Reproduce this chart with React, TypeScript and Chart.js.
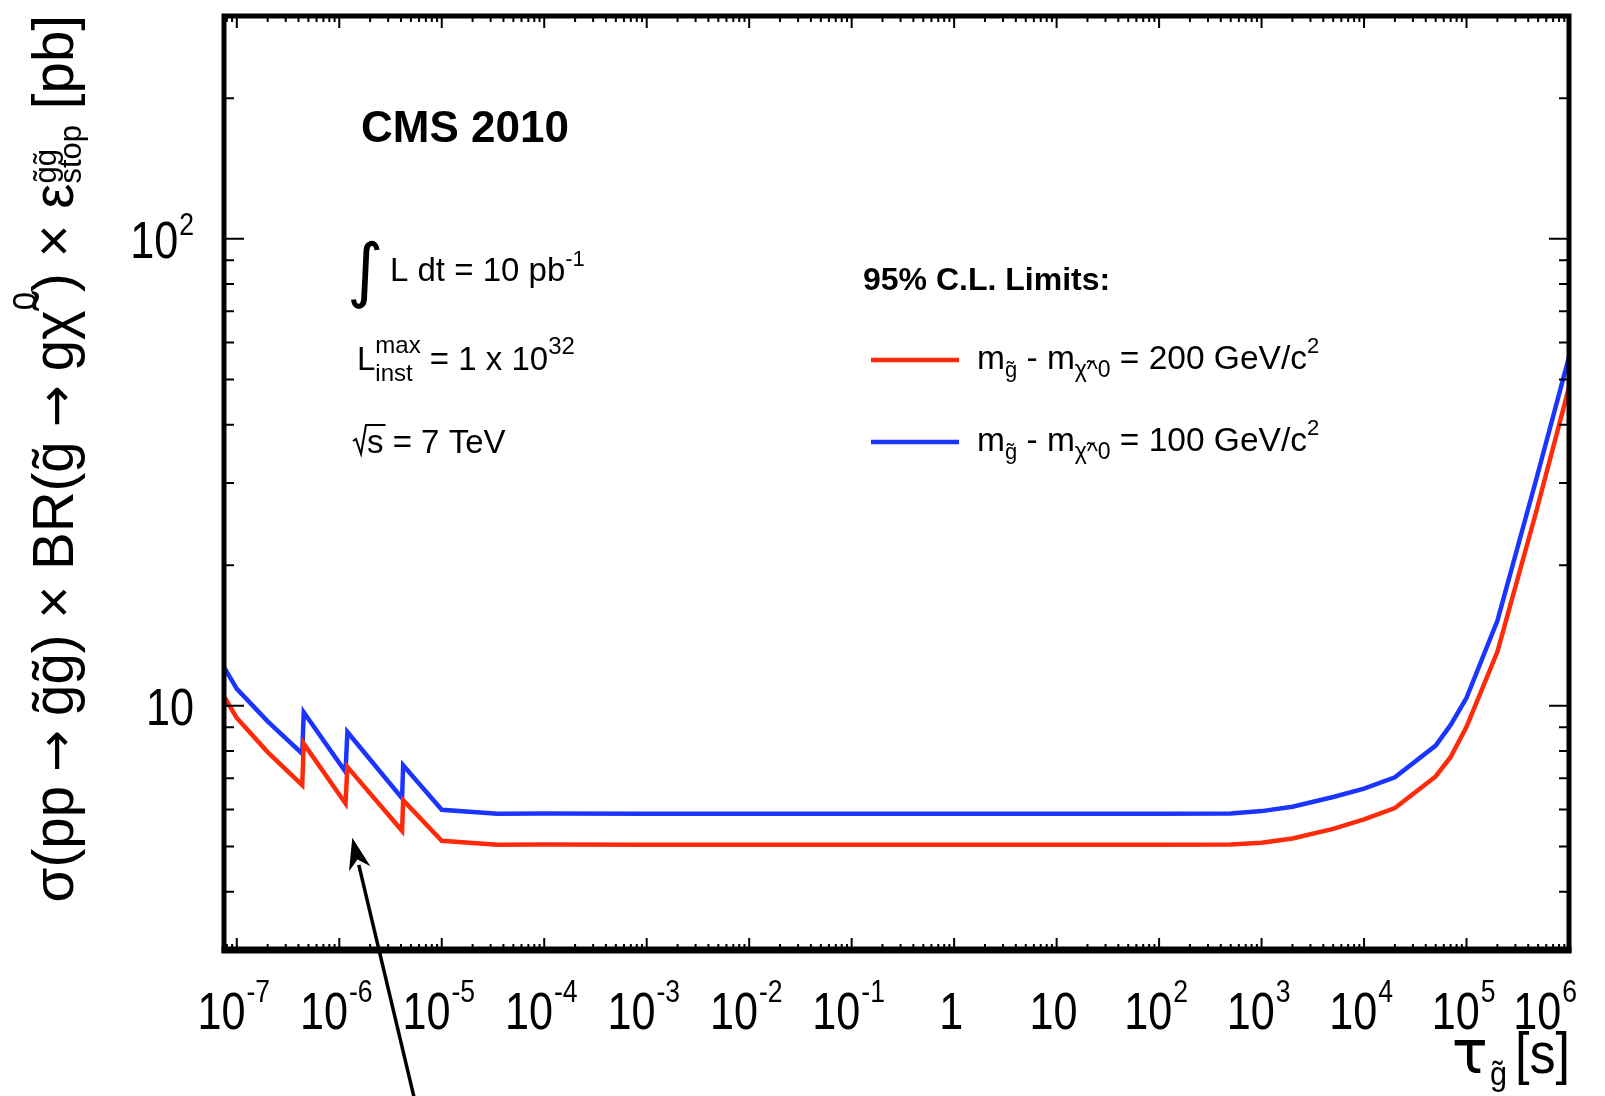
import React, { useEffect, useRef } from 'react';
import { Chart, registerables } from 'chart.js';

Chart.register(...registerables);

// ---------------- data ----------------
const tau = [
  7.5e-8, 1.0e-7, 2.0e-7, 4.35e-7, 4.5e-7, 1.15e-6, 1.2e-6, 4.1e-6, 4.2e-6, 1.0e-5,
  3.5e-5, 1e-4, 1e-3, 7e-3, 1e-1, 1, 10, 100, 5e2, 1e3,
  2e3, 5e3, 1e4, 2e4, 5e4, 7e4, 1e5, 2e5, 4.8e5, 1e6,
];
// m_gluino - m_neutralino = 200 GeV/c^2 (red)
const limit200 = [
  10.47, 9.42, 7.96, 6.76, 8.3, 6.18, 7.4, 5.4, 6.28, 5.14,
  5.04, 5.05, 5.04, 5.04, 5.04, 5.04, 5.04, 5.04, 5.05, 5.09,
  5.2, 5.45, 5.71, 6.04, 7.06, 7.77, 9.02, 13.05, 26.1, 48.1,
];
// m_gluino - m_neutralino = 100 GeV/c^2 (blue)
const limit100 = [
  12.1, 10.87, 9.26, 7.9, 9.69, 7.22, 8.79, 6.34, 7.46, 5.99,
  5.87, 5.88, 5.87, 5.87, 5.87, 5.87, 5.87, 5.87, 5.88, 5.95,
  6.08, 6.38, 6.65, 7.03, 8.22, 9.1, 10.4, 15.2, 30.6, 55.8,
];
const seriesLabels = ['200', '100'];
const xTickExponents = [-7, -6, -5, -4, -3, -2, -1, 0, 1, 2, 3, 4, 5, 6];
const yTickExponents = [1, 2];
const X_MIN = 7.5e-8;
const X_MAX = 1e6;
const Y_MIN = 3;
const Y_MAX = 300;
// annotation arrow (data coordinates): tail below the axis, tip near the dips
const arrowTail = { x: 5.37e-6, y: 1.45 };
const arrowTip = { x: 1.34e-6, y: 5.22 };

const RED = '#ff2a0a';
const BLUE = '#1a35ff';
const FONT = '"Liberation Sans", Arial, Helvetica, sans-serif';
const DEJAVU = '"DejaVu Sans", sans-serif';

type Seg = {
  t: string;
  size: number;
  rise?: number;
  bold?: boolean;
  stackNext?: boolean;
  dx?: number;
  family?: string;
  sx?: number;
};

function fontOf(s: Seg) {
  return `${s.bold ? 'bold ' : ''}${s.size}px ${s.family || FONT}`;
}

function richWidth(ctx: CanvasRenderingContext2D, segs: Seg[], sx: number) {
  let x = 0;
  let stackW = 0;
  let inStack = false;
  for (const s of segs) {
    ctx.font = fontOf(s);
    const w = ctx.measureText(s.t).width * (s.sx ?? sx);
    x += s.dx || 0;
    if (s.stackNext) {
      stackW = Math.max(stackW, w);
      inStack = true;
      continue;
    }
    if (inStack) {
      x += Math.max(stackW, w);
      inStack = false;
      stackW = 0;
    } else x += w;
  }
  return x;
}

function drawRich(
  ctx: CanvasRenderingContext2D,
  segs: Seg[],
  x: number,
  y: number,
  align: 'left' | 'right' | 'center',
  sx = 1,
) {
  const total = richWidth(ctx, segs, sx);
  let cx = align === 'left' ? x : align === 'right' ? x - total : x - total / 2;
  let stackW = 0;
  let inStack = false;
  for (const s of segs) {
    ctx.font = fontOf(s);
    const k = s.sx ?? sx;
    const w = ctx.measureText(s.t).width * k;
    cx += s.dx || 0;
    ctx.save();
    ctx.translate(cx, y - (s.rise || 0));
    ctx.scale(k, 1);
    ctx.textAlign = 'left';
    ctx.textBaseline = 'alphabetic';
    ctx.fillText(s.t, 0, 0);
    ctx.restore();
    if (s.stackNext) {
      stackW = Math.max(stackW, w);
      inStack = true;
      continue;
    }
    if (inStack) {
      cx += Math.max(stackW, w);
      inStack = false;
      stackW = 0;
    } else cx += w;
  }
  return total;
}

const rootStylePlugin = {
  id: 'rootStyle',
  afterDatasetsDraw(chart: any) {
    const ctx: CanvasRenderingContext2D = chart.ctx;
    const { left, right, top, bottom } = chart.chartArea;
    const xs = chart.scales.x;
    const ys = chart.scales.y;
    ctx.save();
    ctx.strokeStyle = '#000';
    ctx.lineCap = 'butt';
    ctx.lineWidth = 2;
    for (let d = -8; d <= 6; d++) {
      for (let k = 1; k <= 9; k++) {
        const v = k * Math.pow(10, d);
        if (v < X_MIN * 0.999 || v > X_MAX * 1.001) continue;
        const px = xs.getPixelForValue(v);
        const len = k === 1 ? 12 : 6;
        ctx.beginPath();
        ctx.moveTo(px, bottom);
        ctx.lineTo(px, bottom - len);
        ctx.moveTo(px, top);
        ctx.lineTo(px, top + len);
        ctx.stroke();
      }
    }
    for (let d = 0; d <= 2; d++) {
      for (let k = 1; k <= 9; k++) {
        const v = k * Math.pow(10, d);
        if (v < Y_MIN * 0.999 || v > Y_MAX * 1.001) continue;
        const py = ys.getPixelForValue(v);
        const len = k === 1 ? 20 : 10;
        ctx.beginPath();
        ctx.moveTo(left, py);
        ctx.lineTo(left + len, py);
        ctx.moveTo(right, py);
        ctx.lineTo(right - len, py);
        ctx.stroke();
      }
    }
    ctx.lineWidth = 5;
    ctx.strokeRect(left, top, right - left, bottom - top);
    ctx.lineWidth = 7;
    ctx.beginPath();
    ctx.moveTo(left - 2.5, bottom);
    ctx.lineTo(right + 2.5, bottom);
    ctx.stroke();
    ctx.restore();
  },
  afterDraw(chart: any) {
    const ctx: CanvasRenderingContext2D = chart.ctx;
    const { right } = chart.chartArea;
    const xs = chart.scales.x;
    const ys = chart.scales.y;
    ctx.save();
    ctx.fillStyle = '#000';

    // x tick labels
    const SX = 0.83;
    for (const e of xTickExponents) {
      const px = xs.getPixelForValue(Math.pow(10, e));
      let segs: Seg[];
      if (e === 0) segs = [{ t: '1', size: 52 }];
      else if (e === 1) segs = [{ t: '10', size: 52 }];
      else segs = [{ t: '10', size: 52 }, { t: String(e), size: 32, rise: 27, dx: 1 }];
      const w = richWidth(ctx, segs, SX);
      let cx = px - 3;
      if (cx + w / 2 > right + 8) cx = right + 8 - w / 2;
      drawRich(ctx, segs, cx, 1029, 'center', SX);
    }
    // y tick labels
    for (const e of yTickExponents) {
      const py = ys.getPixelForValue(Math.pow(10, e));
      const segs: Seg[] =
        e === 1 ? [{ t: '10', size: 52 }] : [{ t: '10', size: 52 }, { t: String(e), size: 32, rise: 23, dx: 1 }];
      drawRich(ctx, segs, 194, py + 19, 'right', SX);
    }

    // x title
    drawRich(
      ctx,
      [
        { t: 'τ', size: 60, family: DEJAVU, sx: 1 },
        { t: 'g\u0303', size: 34, rise: -12, dx: 2 },
        { t: '[s]', size: 58, dx: 8 },
      ],
      right + 1,
      1073,
      'right',
      0.9,
    );

    // y title (rotated)
    const F = 56.5;
    const gap = 14;
    const arrowSeg: Seg = { t: '→', size: 50, family: DEJAVU, dx: gap };
    ctx.save();
    ctx.translate(73, 15);
    ctx.rotate(-Math.PI / 2);
    drawRich(
      ctx,
      [
        { t: 'σ(pp', size: F },
        arrowSeg,
        { t: 'g\u0303g\u0303', size: F, dx: gap },
        { t: ') × BR(', size: F },
        { t: 'g\u0303', size: F },
        arrowSeg,
        { t: 'g', size: F, dx: gap },
        { t: 'χ\u0303', size: F },
        { t: '0', size: 33, rise: 37 },
        { t: ') × ε', size: F },
        { t: 'g\u0303g\u0303', size: 31, rise: 17, stackNext: true },
        { t: 'stop', size: 31, rise: -8 },
        { t: ' [pb]', size: F },
      ],
      0,
      0,
      'right',
      1,
    );
    ctx.restore();

    // CMS 2010
    drawRich(ctx, [{ t: 'CMS 2010', size: 44, bold: true }], 361, 142, 'left');

    // integral sign, fitted to its box
    ctx.font = `100px ${DEJAVU}`;
    const m = ctx.measureText('∫');
    const hh = m.actualBoundingBoxAscent + m.actualBoundingBoxDescent;
    const fs = (100 * 69) / hh;
    ctx.font = `${fs}px ${DEJAVU}`;
    const m2 = ctx.measureText('∫');
    ctx.textAlign = 'left';
    ctx.textBaseline = 'alphabetic';
    ctx.fillText('∫', 350 + m2.actualBoundingBoxLeft, 240 + m2.actualBoundingBoxAscent);

    drawRich(
      ctx,
      [
        { t: 'L dt = 10 pb', size: 33 },
        { t: '-1', size: 22, rise: 15 },
      ],
      390,
      281,
      'left',
    );
    drawRich(
      ctx,
      [
        { t: 'L', size: 33 },
        { t: 'max', size: 24, rise: 17, stackNext: true },
        { t: 'inst', size: 24, rise: -11 },
        { t: ' = 1 x 10', size: 33 },
        { t: '32', size: 24, rise: 16 },
      ],
      357,
      370,
      'left',
    );
    // sqrt(s): radical drawn as a stroke, then the text
    const b = 453;
    const x0 = 353;
    ctx.font = `33px ${FONT}`;
    const ws = ctx.measureText('s').width;
    ctx.strokeStyle = '#000';
    ctx.lineWidth = 2;
    ctx.lineJoin = 'miter';
    ctx.beginPath();
    ctx.moveTo(x0, b - 12);
    ctx.lineTo(x0 + 3, b - 14);
    ctx.lineTo(x0 + 8, b + 1);
    ctx.lineTo(x0 + 13, b - 28);
    ctx.lineTo(x0 + 14 + ws + 2, b - 28);
    ctx.stroke();
    ctx.textAlign = 'left';
    ctx.fillText('s = 7 TeV', x0 + 14, b);

    // legend
    drawRich(ctx, [{ t: '95% C.L. Limits:', size: 32, bold: true }], 863, 290, 'left');
    const legendRows = [
      { color: RED, label: seriesLabels[0], y: 360 },
      { color: BLUE, label: seriesLabels[1], y: 442 },
    ];
    for (const row of legendRows) {
      ctx.strokeStyle = row.color;
      ctx.lineWidth = 4.5;
      ctx.beginPath();
      ctx.moveTo(871, row.y);
      ctx.lineTo(959, row.y);
      ctx.stroke();
      drawRich(
        ctx,
        [
          { t: 'm', size: 33.5 },
          { t: 'g\u0303', size: 22, rise: -8 },
          { t: ' - m', size: 33.5 },
          { t: 'χ\u0303^0', size: 23, rise: -8 },
          { t: ` = ${row.label} GeV/c`, size: 33.5 },
          { t: '2', size: 22, rise: 16 },
        ],
        977,
        row.y + 8.5,
        'left',
      );
    }

    // arrow
    const tx = xs.getPixelForValue(arrowTail.x);
    const ty = ys.getPixelForValue(arrowTail.y);
    const hx = xs.getPixelForValue(arrowTip.x);
    const hy = ys.getPixelForValue(arrowTip.y);
    const dxA = hx - tx;
    const dyA = hy - ty;
    const L = Math.hypot(dxA, dyA);
    const ux = dxA / L;
    const uy = dyA / L;
    const headLen = 32;
    const headW = 11;
    ctx.strokeStyle = '#000';
    ctx.fillStyle = '#000';
    ctx.lineWidth = 3.5;
    ctx.beginPath();
    ctx.moveTo(tx, ty);
    ctx.lineTo(hx - ux * (headLen - 4), hy - uy * (headLen - 4));
    ctx.stroke();
    const bx = hx - ux * headLen;
    const by = hy - uy * headLen;
    ctx.beginPath();
    ctx.moveTo(hx, hy);
    ctx.lineTo(bx - uy * headW, by + ux * headW);
    ctx.lineTo(hx - ux * (headLen * 0.7), hy - uy * (headLen * 0.7));
    ctx.lineTo(bx + uy * headW, by - ux * headW);
    ctx.closePath();
    ctx.fill();

    ctx.restore();
  },
};

export default function App() {
  const ref = useRef<HTMLCanvasElement>(null);
  useEffect(() => {
    document.body.style.margin = '0';
    document.body.style.overflow = 'hidden';
    const canvas = ref.current!;
    const chart = new Chart(canvas, {
      type: 'line',
      data: {
        datasets: [
          {
            label: seriesLabels[0],
            data: tau.map((x, i) => ({ x, y: limit200[i] })),
            borderColor: RED,
            borderWidth: 4.5,
            pointRadius: 0,
            tension: 0,
            fill: false,
            borderJoinStyle: 'miter',
          },
          {
            label: seriesLabels[1],
            data: tau.map((x, i) => ({ x, y: limit100[i] })),
            borderColor: BLUE,
            borderWidth: 4.5,
            pointRadius: 0,
            tension: 0,
            fill: false,
            borderJoinStyle: 'miter',
          },
        ],
      },
      options: {
        animation: false,
        responsive: false,
        maintainAspectRatio: false,
        devicePixelRatio: 1,
        layout: { padding: { left: 224, right: 36, top: 16, bottom: 146 } },
        scales: {
          x: { type: 'logarithmic', min: X_MIN, max: X_MAX, display: false, bounds: 'data' },
          y: { type: 'logarithmic', min: Y_MIN, max: Y_MAX, display: false, bounds: 'data' },
        },
        plugins: { legend: { display: false }, tooltip: { enabled: false } },
        events: [],
      } as any,
      plugins: [rootStylePlugin],
    });
    return () => chart.destroy();
  }, []);
  return (
    <div style={{ width: 1605, height: 1096, background: '#fff' }}>
      <canvas ref={ref} width={1605} height={1096} style={{ display: 'block', width: 1605, height: 1096 }} />
    </div>
  );
}
